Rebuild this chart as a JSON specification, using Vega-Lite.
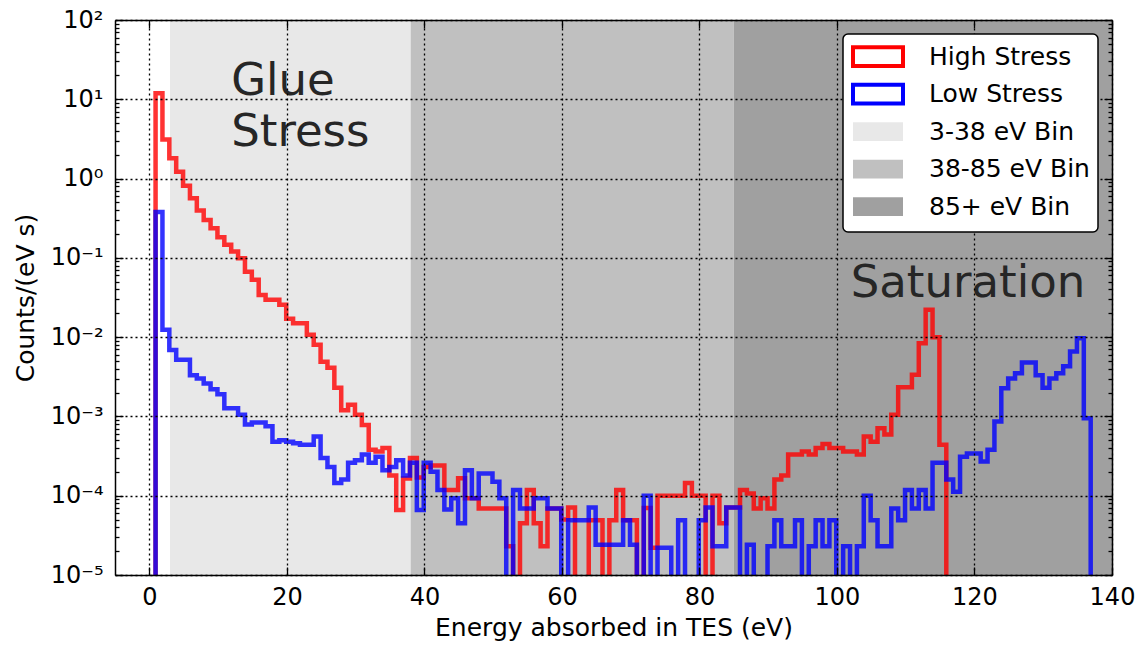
{
  "$schema": "https://vega.github.io/schema/vega-lite/v6.json",
  "width": 997,
  "height": 555,
  "autosize": {"type": "none"},
  "padding": {"left": 115, "top": 20, "right": 31, "bottom": 71},
  "background": "white",
  "datasets": {
    "bands": [
      {"band": "3-38 eV Bin", "start": 3, "end": 38},
      {"band": "38-85 eV Bin", "start": 38, "end": 85},
      {"band": "85+ eV Bin", "start": 85, "end": 140}
    ],
    "hist": [
      {"series": "High Stress", "energy": -0.1, "rate": 1e-6},
      {"series": "High Stress", "energy": 0.9, "rate": 11.9},
      {"series": "High Stress", "energy": 1.9, "rate": 3.1},
      {"series": "High Stress", "energy": 2.9, "rate": 1.8},
      {"series": "High Stress", "energy": 3.9, "rate": 1.22},
      {"series": "High Stress", "energy": 4.9, "rate": 0.81},
      {"series": "High Stress", "energy": 5.9, "rate": 0.565},
      {"series": "High Stress", "energy": 6.9, "rate": 0.395},
      {"series": "High Stress", "energy": 7.9, "rate": 0.3},
      {"series": "High Stress", "energy": 8.9, "rate": 0.237},
      {"series": "High Stress", "energy": 9.9, "rate": 0.182},
      {"series": "High Stress", "energy": 10.9, "rate": 0.146},
      {"series": "High Stress", "energy": 11.9, "rate": 0.12},
      {"series": "High Stress", "energy": 12.9, "rate": 0.099},
      {"series": "High Stress", "energy": 13.9, "rate": 0.067},
      {"series": "High Stress", "energy": 14.9, "rate": 0.053},
      {"series": "High Stress", "energy": 15.9, "rate": 0.034},
      {"series": "High Stress", "energy": 16.9, "rate": 0.0296},
      {"series": "High Stress", "energy": 17.9, "rate": 0.0296},
      {"series": "High Stress", "energy": 18.9, "rate": 0.0257},
      {"series": "High Stress", "energy": 19.9, "rate": 0.017},
      {"series": "High Stress", "energy": 20.9, "rate": 0.015},
      {"series": "High Stress", "energy": 21.9, "rate": 0.015},
      {"series": "High Stress", "energy": 22.9, "rate": 0.0107},
      {"series": "High Stress", "energy": 23.9, "rate": 0.008},
      {"series": "High Stress", "energy": 24.9, "rate": 0.0049},
      {"series": "High Stress", "energy": 25.9, "rate": 0.0041},
      {"series": "High Stress", "energy": 26.9, "rate": 0.0023},
      {"series": "High Stress", "energy": 27.9, "rate": 0.0012},
      {"series": "High Stress", "energy": 28.9, "rate": 0.0014},
      {"series": "High Stress", "energy": 29.9, "rate": 0.00105},
      {"series": "High Stress", "energy": 30.9, "rate": 0.00078},
      {"series": "High Stress", "energy": 31.9, "rate": 0.00038},
      {"series": "High Stress", "energy": 32.9, "rate": 0.00036},
      {"series": "High Stress", "energy": 33.9, "rate": 0.0004},
      {"series": "High Stress", "energy": 34.9, "rate": 0.00018},
      {"series": "High Stress", "energy": 35.9, "rate": 0.000066},
      {"series": "High Stress", "energy": 36.9, "rate": 0.000165},
      {"series": "High Stress", "energy": 37.9, "rate": 0.0003},
      {"series": "High Stress", "energy": 38.9, "rate": 0.00017},
      {"series": "High Stress", "energy": 39.9, "rate": 0.00023},
      {"series": "High Stress", "energy": 40.9, "rate": 0.00024},
      {"series": "High Stress", "energy": 41.9, "rate": 0.00024},
      {"series": "High Stress", "energy": 42.9, "rate": 0.000118},
      {"series": "High Stress", "energy": 43.9, "rate": 0.000118},
      {"series": "High Stress", "energy": 44.9, "rate": 0.000166},
      {"series": "High Stress", "energy": 45.9, "rate": 0.000093},
      {"series": "High Stress", "energy": 46.9, "rate": 0.000093},
      {"series": "High Stress", "energy": 47.9, "rate": 0.000069},
      {"series": "High Stress", "energy": 48.9, "rate": 0.000069},
      {"series": "High Stress", "energy": 49.9, "rate": 0.000069},
      {"series": "High Stress", "energy": 50.9, "rate": 0.000069},
      {"series": "High Stress", "energy": 51.9, "rate": 0.000023},
      {"series": "High Stress", "energy": 52.9, "rate": 1e-6},
      {"series": "High Stress", "energy": 53.9, "rate": 0.000045},
      {"series": "High Stress", "energy": 54.9, "rate": 0.000118},
      {"series": "High Stress", "energy": 55.9, "rate": 0.000045},
      {"series": "High Stress", "energy": 56.9, "rate": 0.000023},
      {"series": "High Stress", "energy": 57.9, "rate": 0.000069},
      {"series": "High Stress", "energy": 58.9, "rate": 0.000069},
      {"series": "High Stress", "energy": 59.9, "rate": 0.00005},
      {"series": "High Stress", "energy": 60.9, "rate": 0.000071},
      {"series": "High Stress", "energy": 61.9, "rate": 1e-6},
      {"series": "High Stress", "energy": 62.9, "rate": 1e-6},
      {"series": "High Stress", "energy": 63.9, "rate": 0.000049},
      {"series": "High Stress", "energy": 64.9, "rate": 0.000049},
      {"series": "High Stress", "energy": 65.9, "rate": 1e-6},
      {"series": "High Stress", "energy": 66.9, "rate": 0.000049},
      {"series": "High Stress", "energy": 67.9, "rate": 0.000118},
      {"series": "High Stress", "energy": 68.9, "rate": 0.000049},
      {"series": "High Stress", "energy": 69.9, "rate": 0.000049},
      {"series": "High Stress", "energy": 70.9, "rate": 1e-6},
      {"series": "High Stress", "energy": 71.9, "rate": 0.00007},
      {"series": "High Stress", "energy": 72.9, "rate": 0.000022},
      {"series": "High Stress", "energy": 73.9, "rate": 0.0001},
      {"series": "High Stress", "energy": 74.9, "rate": 0.0001},
      {"series": "High Stress", "energy": 75.9, "rate": 0.0001},
      {"series": "High Stress", "energy": 76.9, "rate": 0.0001},
      {"series": "High Stress", "energy": 77.9, "rate": 0.000145},
      {"series": "High Stress", "energy": 78.9, "rate": 0.0001},
      {"series": "High Stress", "energy": 79.9, "rate": 0.0001},
      {"series": "High Stress", "energy": 80.9, "rate": 1e-6},
      {"series": "High Stress", "energy": 81.9, "rate": 0.0001},
      {"series": "High Stress", "energy": 82.9, "rate": 0.000045},
      {"series": "High Stress", "energy": 83.9, "rate": 0.000071},
      {"series": "High Stress", "energy": 84.9, "rate": 0.000071},
      {"series": "High Stress", "energy": 85.9, "rate": 0.000118},
      {"series": "High Stress", "energy": 86.9, "rate": 0.000107},
      {"series": "High Stress", "energy": 87.9, "rate": 0.000069},
      {"series": "High Stress", "energy": 88.9, "rate": 0.000093},
      {"series": "High Stress", "energy": 89.9, "rate": 0.000069},
      {"series": "High Stress", "energy": 90.9, "rate": 0.00016},
      {"series": "High Stress", "energy": 91.9, "rate": 0.00018},
      {"series": "High Stress", "energy": 92.9, "rate": 0.00033},
      {"series": "High Stress", "energy": 93.9, "rate": 0.00033},
      {"series": "High Stress", "energy": 94.9, "rate": 0.00036},
      {"series": "High Stress", "energy": 95.9, "rate": 0.00033},
      {"series": "High Stress", "energy": 96.9, "rate": 0.0004},
      {"series": "High Stress", "energy": 97.9, "rate": 0.00045},
      {"series": "High Stress", "energy": 98.9, "rate": 0.0004},
      {"series": "High Stress", "energy": 99.9, "rate": 0.0004},
      {"series": "High Stress", "energy": 100.9, "rate": 0.00036},
      {"series": "High Stress", "energy": 101.9, "rate": 0.00036},
      {"series": "High Stress", "energy": 102.9, "rate": 0.00033},
      {"series": "High Stress", "energy": 103.9, "rate": 0.00056},
      {"series": "High Stress", "energy": 104.9, "rate": 0.00048},
      {"series": "High Stress", "energy": 105.9, "rate": 0.00071},
      {"series": "High Stress", "energy": 106.9, "rate": 0.00059},
      {"series": "High Stress", "energy": 107.9, "rate": 0.00105},
      {"series": "High Stress", "energy": 108.9, "rate": 0.00234},
      {"series": "High Stress", "energy": 109.9, "rate": 0.00234},
      {"series": "High Stress", "energy": 110.9, "rate": 0.00335},
      {"series": "High Stress", "energy": 111.9, "rate": 0.0084},
      {"series": "High Stress", "energy": 112.9, "rate": 0.0221},
      {"series": "High Stress", "energy": 113.9, "rate": 0.01},
      {"series": "High Stress", "energy": 114.9, "rate": 0.00044},
      {"series": "High Stress", "energy": 115.9, "rate": 1e-6},
      {"series": "Low Stress", "energy": -0.1, "rate": 1e-6},
      {"series": "Low Stress", "energy": 0.9, "rate": 0.38},
      {"series": "Low Stress", "energy": 1.9, "rate": 0.0124},
      {"series": "Low Stress", "energy": 2.9, "rate": 0.0069},
      {"series": "Low Stress", "energy": 3.9, "rate": 0.0052},
      {"series": "Low Stress", "energy": 4.9, "rate": 0.0052},
      {"series": "Low Stress", "energy": 5.9, "rate": 0.0033},
      {"series": "Low Stress", "energy": 6.9, "rate": 0.003},
      {"series": "Low Stress", "energy": 7.9, "rate": 0.0026},
      {"series": "Low Stress", "energy": 8.9, "rate": 0.0022},
      {"series": "Low Stress", "energy": 9.9, "rate": 0.0019},
      {"series": "Low Stress", "energy": 10.9, "rate": 0.00127},
      {"series": "Low Stress", "energy": 11.9, "rate": 0.00127},
      {"series": "Low Stress", "energy": 12.9, "rate": 0.00105},
      {"series": "Low Stress", "energy": 13.9, "rate": 0.00079},
      {"series": "Low Stress", "energy": 14.9, "rate": 0.00084},
      {"series": "Low Stress", "energy": 15.9, "rate": 0.00084},
      {"series": "Low Stress", "energy": 16.9, "rate": 0.00075},
      {"series": "Low Stress", "energy": 17.9, "rate": 0.00048},
      {"series": "Low Stress", "energy": 18.9, "rate": 0.0005},
      {"series": "Low Stress", "energy": 19.9, "rate": 0.00048},
      {"series": "Low Stress", "energy": 20.9, "rate": 0.00046},
      {"series": "Low Stress", "energy": 21.9, "rate": 0.00044},
      {"series": "Low Stress", "energy": 22.9, "rate": 0.00044},
      {"series": "Low Stress", "energy": 23.9, "rate": 0.00056},
      {"series": "Low Stress", "energy": 24.9, "rate": 0.0003},
      {"series": "Low Stress", "energy": 25.9, "rate": 0.00023},
      {"series": "Low Stress", "energy": 26.9, "rate": 0.000145},
      {"series": "Low Stress", "energy": 27.9, "rate": 0.00016},
      {"series": "Low Stress", "energy": 28.9, "rate": 0.00026},
      {"series": "Low Stress", "energy": 29.9, "rate": 0.00028},
      {"series": "Low Stress", "energy": 30.9, "rate": 0.00033},
      {"series": "Low Stress", "energy": 31.9, "rate": 0.00026},
      {"series": "Low Stress", "energy": 32.9, "rate": 0.00031},
      {"series": "Low Stress", "energy": 33.9, "rate": 0.00021},
      {"series": "Low Stress", "energy": 34.9, "rate": 0.00023},
      {"series": "Low Stress", "energy": 35.9, "rate": 0.00028},
      {"series": "Low Stress", "energy": 36.9, "rate": 0.00018},
      {"series": "Low Stress", "energy": 37.9, "rate": 0.00026},
      {"series": "Low Stress", "energy": 38.9, "rate": 0.000066},
      {"series": "Low Stress", "energy": 39.9, "rate": 0.00026},
      {"series": "Low Stress", "energy": 40.9, "rate": 0.0002},
      {"series": "Low Stress", "energy": 41.9, "rate": 0.000118},
      {"series": "Low Stress", "energy": 42.9, "rate": 0.000067},
      {"series": "Low Stress", "energy": 43.9, "rate": 0.000093},
      {"series": "Low Stress", "energy": 44.9, "rate": 0.000045},
      {"series": "Low Stress", "energy": 45.9, "rate": 0.00021},
      {"series": "Low Stress", "energy": 46.9, "rate": 0.000093},
      {"series": "Low Stress", "energy": 47.9, "rate": 0.00019},
      {"series": "Low Stress", "energy": 48.9, "rate": 0.00019},
      {"series": "Low Stress", "energy": 49.9, "rate": 0.00015},
      {"series": "Low Stress", "energy": 50.9, "rate": 0.000093},
      {"series": "Low Stress", "energy": 51.9, "rate": 1e-6},
      {"series": "Low Stress", "energy": 52.9, "rate": 0.000118},
      {"series": "Low Stress", "energy": 53.9, "rate": 0.000069},
      {"series": "Low Stress", "energy": 54.9, "rate": 0.000069},
      {"series": "Low Stress", "energy": 55.9, "rate": 0.000093},
      {"series": "Low Stress", "energy": 56.9, "rate": 0.000093},
      {"series": "Low Stress", "energy": 57.9, "rate": 0.000069},
      {"series": "Low Stress", "energy": 58.9, "rate": 0.000069},
      {"series": "Low Stress", "energy": 59.9, "rate": 1e-6},
      {"series": "Low Stress", "energy": 60.9, "rate": 0.000049},
      {"series": "Low Stress", "energy": 61.9, "rate": 0.000049},
      {"series": "Low Stress", "energy": 62.9, "rate": 0.000049},
      {"series": "Low Stress", "energy": 63.9, "rate": 0.000071},
      {"series": "Low Stress", "energy": 64.9, "rate": 0.000024},
      {"series": "Low Stress", "energy": 65.9, "rate": 0.000024},
      {"series": "Low Stress", "energy": 66.9, "rate": 0.000024},
      {"series": "Low Stress", "energy": 67.9, "rate": 0.000024},
      {"series": "Low Stress", "energy": 68.9, "rate": 0.000049},
      {"series": "Low Stress", "energy": 69.9, "rate": 0.000024},
      {"series": "Low Stress", "energy": 70.9, "rate": 1e-6},
      {"series": "Low Stress", "energy": 71.9, "rate": 0.0001},
      {"series": "Low Stress", "energy": 72.9, "rate": 1e-6},
      {"series": "Low Stress", "energy": 73.9, "rate": 0.000022},
      {"series": "Low Stress", "energy": 74.9, "rate": 0.000022},
      {"series": "Low Stress", "energy": 75.9, "rate": 1e-6},
      {"series": "Low Stress", "energy": 76.9, "rate": 0.000049},
      {"series": "Low Stress", "energy": 77.9, "rate": 1e-6},
      {"series": "Low Stress", "energy": 78.9, "rate": 1e-6},
      {"series": "Low Stress", "energy": 79.9, "rate": 0.000049},
      {"series": "Low Stress", "energy": 80.9, "rate": 0.000071},
      {"series": "Low Stress", "energy": 81.9, "rate": 0.000023},
      {"series": "Low Stress", "energy": 82.9, "rate": 0.000023},
      {"series": "Low Stress", "energy": 83.9, "rate": 0.000071},
      {"series": "Low Stress", "energy": 84.9, "rate": 0.000071},
      {"series": "Low Stress", "energy": 85.9, "rate": 1e-6},
      {"series": "Low Stress", "energy": 86.9, "rate": 0.000024},
      {"series": "Low Stress", "energy": 87.9, "rate": 1e-6},
      {"series": "Low Stress", "energy": 88.9, "rate": 1e-6},
      {"series": "Low Stress", "energy": 89.9, "rate": 0.000023},
      {"series": "Low Stress", "energy": 90.9, "rate": 0.000049},
      {"series": "Low Stress", "energy": 91.9, "rate": 0.000023},
      {"series": "Low Stress", "energy": 92.9, "rate": 0.000023},
      {"series": "Low Stress", "energy": 93.9, "rate": 0.000049},
      {"series": "Low Stress", "energy": 94.9, "rate": 1e-6},
      {"series": "Low Stress", "energy": 95.9, "rate": 0.000023},
      {"series": "Low Stress", "energy": 96.9, "rate": 0.000049},
      {"series": "Low Stress", "energy": 97.9, "rate": 0.000023},
      {"series": "Low Stress", "energy": 98.9, "rate": 0.000049},
      {"series": "Low Stress", "energy": 99.9, "rate": 1e-6},
      {"series": "Low Stress", "energy": 100.9, "rate": 0.000023},
      {"series": "Low Stress", "energy": 101.9, "rate": 1e-6},
      {"series": "Low Stress", "energy": 102.9, "rate": 0.000023},
      {"series": "Low Stress", "energy": 103.9, "rate": 0.0001},
      {"series": "Low Stress", "energy": 104.9, "rate": 0.000049},
      {"series": "Low Stress", "energy": 105.9, "rate": 0.000023},
      {"series": "Low Stress", "energy": 106.9, "rate": 0.000023},
      {"series": "Low Stress", "energy": 107.9, "rate": 0.000069},
      {"series": "Low Stress", "energy": 108.9, "rate": 0.000049},
      {"series": "Low Stress", "energy": 109.9, "rate": 0.000118},
      {"series": "Low Stress", "energy": 110.9, "rate": 0.000069},
      {"series": "Low Stress", "energy": 111.9, "rate": 0.000118},
      {"series": "Low Stress", "energy": 112.9, "rate": 0.000069},
      {"series": "Low Stress", "energy": 113.9, "rate": 0.00026},
      {"series": "Low Stress", "energy": 114.9, "rate": 0.00026},
      {"series": "Low Stress", "energy": 115.9, "rate": 0.00016},
      {"series": "Low Stress", "energy": 116.9, "rate": 0.000112},
      {"series": "Low Stress", "energy": 117.9, "rate": 0.00031},
      {"series": "Low Stress", "energy": 118.9, "rate": 0.00034},
      {"series": "Low Stress", "energy": 119.9, "rate": 0.00034},
      {"series": "Low Stress", "energy": 120.9, "rate": 0.00027},
      {"series": "Low Stress", "energy": 121.9, "rate": 0.00038},
      {"series": "Low Stress", "energy": 122.9, "rate": 0.00086},
      {"series": "Low Stress", "energy": 123.9, "rate": 0.00227},
      {"series": "Low Stress", "energy": 124.9, "rate": 0.003},
      {"series": "Low Stress", "energy": 125.9, "rate": 0.0035},
      {"series": "Low Stress", "energy": 126.9, "rate": 0.0048},
      {"series": "Low Stress", "energy": 127.9, "rate": 0.0048},
      {"series": "Low Stress", "energy": 128.9, "rate": 0.0033},
      {"series": "Low Stress", "energy": 129.9, "rate": 0.0023},
      {"series": "Low Stress", "energy": 130.9, "rate": 0.003},
      {"series": "Low Stress", "energy": 131.9, "rate": 0.0035},
      {"series": "Low Stress", "energy": 132.9, "rate": 0.0043},
      {"series": "Low Stress", "energy": 133.9, "rate": 0.0066},
      {"series": "Low Stress", "energy": 134.9, "rate": 0.0097},
      {"series": "Low Stress", "energy": 135.9, "rate": 0.00095},
      {"series": "Low Stress", "energy": 136.9, "rate": 1e-6}
    ]
  },
  "layer": [
    {
      "data": {"name": "bands"},
      "mark": {"type": "rect", "clip": true},
      "encoding": {
        "x": {
          "field": "start", "type": "quantitative",
          "scale": {"domain": [-5, 140], "nice": false, "zero": false},
          "axis": {
            "orient": "bottom", "values": [0, 20, 40, 60, 80, 100, 120, 140],
            "title": "Energy absorbed in TES (eV)", "titlePadding": 6,
            "grid": true, "gridColor": "black", "gridDash": [2, 3], "gridWidth": 1.3,
            "tickSize": -8, "labelPadding": 18, "labelFlush": false, "zindex": 1
          }
        },
        "x2": {"field": "end"},
        "fill": {
          "field": "band", "type": "nominal",
          "scale": {
            "domain": ["High Stress", "Low Stress", "3-38 eV Bin", "38-85 eV Bin", "85+ eV Bin"],
            "range": ["white", "white", "#e8e8e8", "#c0c0c0", "#a0a0a0"]
          },
          "legend": {
            "title": null, "orient": "top-right", "offset": 14, "padding": 8, "zindex": 3,
            "strokeColor": "black", "fillColor": "white", "cornerRadius": 5,
            "symbolType": "M-1,-0.75L3,-0.75L3,0.75L-1,0.75Z", "symbolSize": 625,
            "symbolStrokeWidth": 4, "labelFont": "DejaVu Sans", "labelFontSize": 25,
            "labelColor": "black", "labelOffset": 49, "rowPadding": 2.5, "labelLimit": 400
          }
        }
      }
    },
    {
      "data": {"values": [{"note": "Glue\nStress"}]},
      "mark": {"type": "text", "align": "left", "baseline": "alphabetic", "font": "DejaVu Sans", "fontSize": 45, "color": "#262626", "lineHeight": 51, "lineBreak": "\n"},
      "encoding": {
        "x": {"datum": 11.9, "type": "quantitative", "axis": null},
        "y": {
          "datum": 11.3, "type": "quantitative",
          "axis": {
            "orient": "left", "title": null, "labels": false, "grid": false, "domain": false,
            "values": [2e-5, 3e-5, 4e-5, 5e-5, 6e-5, 7e-5, 8e-5, 9e-5, 2e-4, 3e-4, 4e-4, 5e-4, 6e-4, 7e-4, 8e-4, 9e-4, 0.002, 0.003, 0.004, 0.005, 0.006, 0.007, 0.008, 0.009, 0.02, 0.03, 0.04, 0.05, 0.06, 0.07, 0.08, 0.09, 0.2, 0.3, 0.4, 0.5, 0.6, 0.7, 0.8, 0.9, 2, 3, 4, 5, 6, 7, 8, 9, 20, 30, 40, 50, 60, 70, 80, 90],
            "tickSize": -4, "zindex": 1
          }
        },
        "text": {"field": "note", "type": "nominal"}
      }
    },
    {
      "data": {"values": [{"note": "Saturation"}]},
      "mark": {"type": "text", "align": "left", "baseline": "alphabetic", "font": "DejaVu Sans", "fontSize": 45, "color": "#262626"},
      "encoding": {
        "x": {"datum": 102.0, "type": "quantitative", "axis": null},
        "y": {
          "datum": 0.0324, "type": "quantitative",
          "axis": {
            "orient": "right", "title": null, "labels": false, "grid": false, "domain": false,
            "values": [2e-5, 3e-5, 4e-5, 5e-5, 6e-5, 7e-5, 8e-5, 9e-5, 2e-4, 3e-4, 4e-4, 5e-4, 6e-4, 7e-4, 8e-4, 9e-4, 0.002, 0.003, 0.004, 0.005, 0.006, 0.007, 0.008, 0.009, 0.02, 0.03, 0.04, 0.05, 0.06, 0.07, 0.08, 0.09, 0.2, 0.3, 0.4, 0.5, 0.6, 0.7, 0.8, 0.9, 2, 3, 4, 5, 6, 7, 8, 9, 20, 30, 40, 50, 60, 70, 80, 90],
            "tickSize": -4, "zindex": 1
          }
        },
        "text": {"field": "note", "type": "nominal"}
      }
    },
    {
      "data": {"name": "hist"},
      "transform": [{"filter": "datum.series == 'High Stress'"}],
      "mark": {"type": "line", "interpolate": "step-after", "strokeWidth": 4.5, "strokeOpacity": 0.8, "clip": true},
      "encoding": {
        "x": {
          "field": "energy", "type": "quantitative",
          "scale": {"domain": [-5, 140], "nice": false, "zero": false},
          "axis": {"orient": "top", "values": [0, 20, 40, 60, 80, 100, 120, 140], "labels": false, "title": null, "grid": false, "tickSize": -8, "zindex": 1}
        },
        "y": {
          "field": "rate", "type": "quantitative",
          "scale": {"type": "log", "domain": [1e-5, 100], "nice": false},
          "axis": {
            "orient": "left", "title": "Counts/(eV s)", "titlePadding": 12, "titleFontSize": 25,
            "values": [1e-5, 1e-4, 0.001, 0.01, 0.1, 1, 10, 100],
            "labelExpr": "'10' + ['⁻⁵','⁻⁴','⁻³','⁻²','⁻¹','⁰','¹','²'][round(log(datum.value)/LN10) + 5]",
            "labelOverlap": false, "labelPadding": 20, "labelFlush": false, "tickSize": -8,
            "grid": true, "gridColor": "black", "gridDash": [2, 3], "gridWidth": 1.3,
            "zindex": 1
          }
        },
        "stroke": {
          "field": "series", "type": "nominal",
          "scale": {
            "domain": ["High Stress", "Low Stress", "3-38 eV Bin", "38-85 eV Bin", "85+ eV Bin"],
            "range": ["#ff0000", "#0000ff", "transparent", "transparent", "transparent"]
          },
          "legend": {
            "title": null, "orient": "top-right", "offset": 14, "padding": 8, "zindex": 3,
            "strokeColor": "black", "fillColor": "white", "cornerRadius": 5,
            "symbolType": "M-1,-0.75L3,-0.75L3,0.75L-1,0.75Z", "symbolSize": 625,
            "symbolStrokeWidth": 4, "labelFont": "DejaVu Sans", "labelFontSize": 25,
            "labelColor": "black", "labelOffset": 49, "rowPadding": 2.5, "labelLimit": 400
          }
        }
      }
    },
    {
      "data": {"name": "hist"},
      "transform": [{"filter": "datum.series == 'Low Stress'"}],
      "mark": {"type": "line", "interpolate": "step-after", "strokeWidth": 4.5, "strokeOpacity": 0.8, "clip": true},
      "encoding": {
        "x": {"field": "energy", "type": "quantitative", "axis": null},
        "y": {
          "field": "rate", "type": "quantitative",
          "axis": {
            "orient": "right", "title": null, "labels": false, "grid": false,
            "values": [1e-5, 1e-4, 0.001, 0.01, 0.1, 1, 10, 100],
            "tickSize": -8, "zindex": 1
          }
        },
        "stroke": {"field": "series", "type": "nominal"}
      }
    }
  ],
  "resolve": {"axis": {"x": "independent", "y": "independent"}},
  "config": {
    "view": {"stroke": null},
    "axis": {
      "domainColor": "black", "domainWidth": 1.5, "tickColor": "black", "tickWidth": 1.3,
      "labelFont": "DejaVu Sans", "labelFontSize": 24, "labelColor": "black",
      "titleFont": "DejaVu Sans", "titleFontSize": 25, "titleFontWeight": "normal", "titleColor": "black"
    },
    "legend": {"strokeWidth": 1.5}
  }
}
